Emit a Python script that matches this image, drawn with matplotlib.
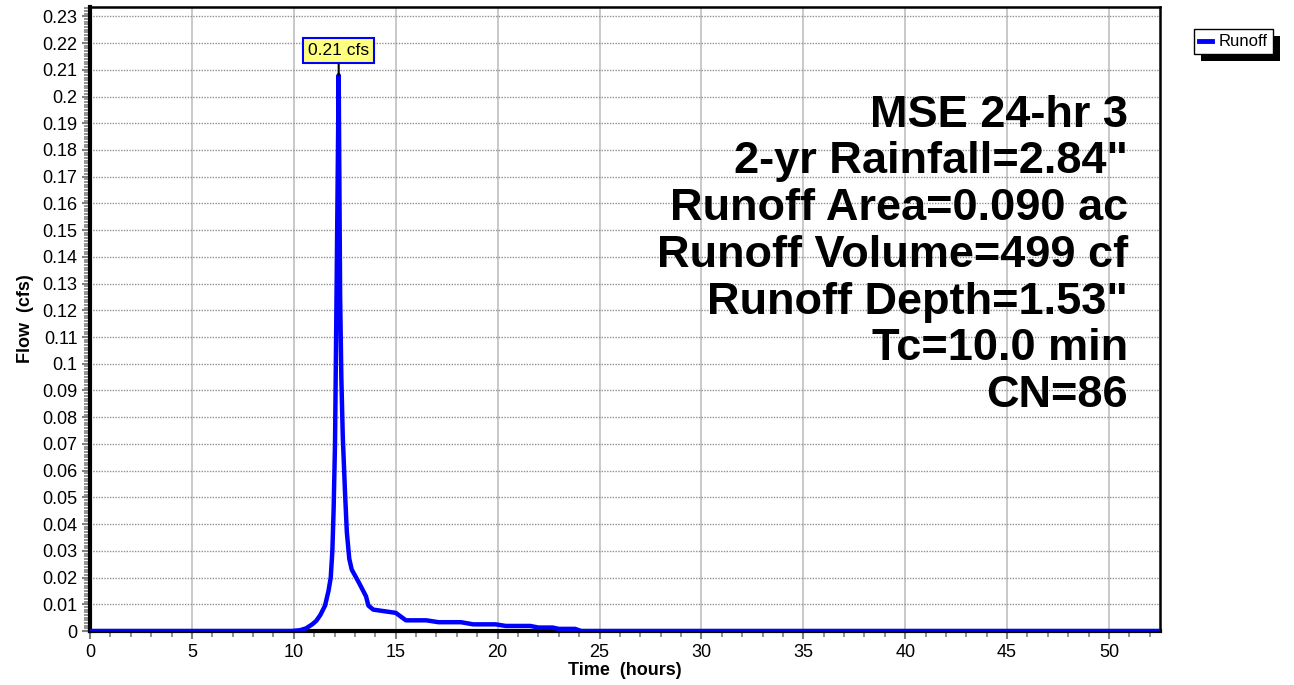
import matplotlib
matplotlib.use("Agg")
import matplotlib.pyplot as plt
from matplotlib.ticker import MultipleLocator
from matplotlib.patches import Rectangle

plt.rcParams['font.family'] = ['Liberation Sans', 'DejaVu Sans']

# hydrograph
time_hr = [0, 9.9, 10.3, 10.6, 10.9, 11.1, 11.3, 11.53, 11.7, 11.81, 11.89, 11.95,
           12.02, 12.1, 12.2, 12.27, 12.33, 12.4, 12.51, 12.6, 12.72, 12.84, 13.2,
           13.54, 13.66, 13.9, 15.0, 15.5, 16.5, 17.1, 18.2, 18.8, 19.9, 20.4,
           21.6, 22.0, 22.7, 23.0, 23.8, 24.1, 52.5]
flow_cfs = [0, 0, 0.0003, 0.001, 0.0025, 0.0038, 0.006, 0.0095, 0.015, 0.02, 0.03, 0.045,
            0.07, 0.13, 0.208, 0.126, 0.095, 0.073, 0.052, 0.037, 0.027, 0.023, 0.018,
            0.013, 0.0095, 0.008, 0.0068, 0.004, 0.004, 0.0033, 0.0033, 0.0025, 0.0025, 0.0019,
            0.0019, 0.0013, 0.0013, 0.0008, 0.0008, 0, 0]
peak_time = 12.2
peak_flow = 0.208
peak_label = "0.21 cfs"
series_name = "Runoff"
info_lines = ["MSE 24-hr 3", '2-yr Rainfall=2.84"', "Runoff Area=0.090 ac",
              "Runoff Volume=499 cf", 'Runoff Depth=1.53"', "Tc=10.0 min", "CN=86"]

fig = plt.figure(figsize=(12.94, 6.85), dpi=100)
ax = fig.add_axes([0.0696, 0.0788, 0.8268, 0.911])

ax.plot(time_hr, flow_cfs, color='#0000FF', lw=3.2, label=series_name, zorder=5,
        solid_joinstyle='round')

ax.set_xlim(0, 52.5)
ax.xaxis.set_major_locator(MultipleLocator(5))
ax.xaxis.set_minor_locator(MultipleLocator(1))
ax.yaxis.set_minor_locator(MultipleLocator(0.001))
ax.set_yticks([i / 100 for i in range(24)])
ax.set_yticklabels(['0'] + ['%g' % (i / 100) for i in range(1, 24)])
ax.set_ylim(0, 0.2335)

ax.grid(which='major', axis='x', color='#c0c0c0', lw=1.2, ls='-')
ax.grid(which='major', axis='y', color='#909090', lw=1.0, ls=(0, (1, 1)))
ax.set_axisbelow(True)

ax.tick_params(which='major', direction='out', length=6, width=1.5, color='#808080',
               labelsize=13, pad=3)
ax.tick_params(which='minor', direction='out', length=4, width=1.2, color='#808080')

for side in ['left', 'bottom']:
    ax.spines[side].set_linewidth(3)
for side in ['top', 'right']:
    ax.spines[side].set_linewidth(1.8)

ax.set_xlabel("Time  (hours)", fontsize=13, fontweight='bold', labelpad=1)
ax.set_ylabel("Flow  (cfs)", fontsize=13, fontweight='bold', labelpad=6)

# peak label
ax.annotate(peak_label, xy=(peak_time, peak_flow), xytext=(peak_time, 0.2173),
            ha='center', va='center', fontsize=12.5,
            bbox=dict(boxstyle='square,pad=0.3', fc='#FFFF80', ec='#0000FF', lw=1.5),
            arrowprops=dict(arrowstyle='-', color='black', lw=1.5, shrinkA=0, shrinkB=0),
            zorder=6)

# info block
y0 = 0.808
for i, line in enumerate(info_lines):
    ax.text(0.970, y0 - i * 0.0748, line, transform=ax.transAxes, ha='right',
            va='baseline', fontsize=32.5, fontweight='bold', zorder=7)

leg = fig.legend(loc='upper left', bbox_to_anchor=(0.9225, 0.957), fontsize=12,
                 frameon=True, fancybox=False, framealpha=1, handlelength=0.8,
                 handletextpad=0.4, borderpad=0.3, borderaxespad=0)
leg.get_frame().set_edgecolor('black')
leg.get_frame().set_linewidth(1.0)
leg.get_lines()[0].set_linewidth(3.5)

fig.canvas.draw()
bb = leg.get_window_extent()
shadow = Rectangle((bb.x0 + 7, bb.y0 - 7), bb.width, bb.height, transform=None,
                   facecolor='black', edgecolor='none', zorder=leg.get_zorder() - 1)
fig.patches.append(shadow)

fig.savefig("out.png", dpi=100)
